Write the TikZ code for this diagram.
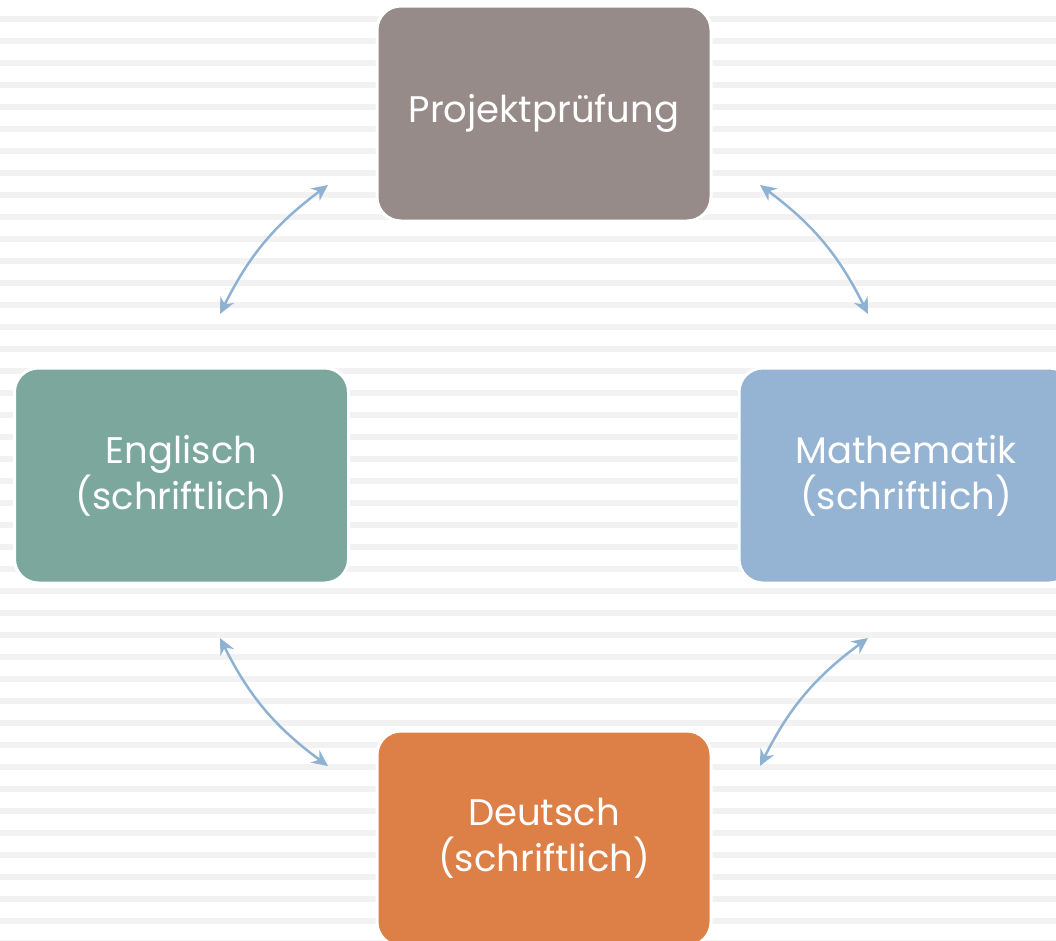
\documentclass[tikz,border=0pt]{standalone}
\usepackage{fontspec}
\setmainfont{Poppins}
\usetikzlibrary{arrows.meta}
\definecolor{stripe}{HTML}{F2F2F2}
\definecolor{cgray}{HTML}{968B88}
\definecolor{cteal}{HTML}{7BA79D}
\definecolor{cblue}{HTML}{95B3D2}
\definecolor{corange}{HTML}{DD8047}
\definecolor{carrow}{HTML}{8FB2D3}
\tikzset{
  subj/.style={rectangle, rounded corners=24pt, draw=white, line width=3pt,
    minimum width=334pt, minimum height=215pt, text=white, align=center,
    font=\fontsize{37}{46}\selectfont, inner sep=0pt},
  link/.style={draw=carrow, line width=2.5pt, {Stealth[length=16pt,width=15pt]}-{Stealth[length=16pt,width=15pt]}}
}
\begin{document}
\begin{tikzpicture}[x=1pt,y=-1pt]
\path[use as bounding box, clip] (0,0) rectangle (1056,940);
\fill[white] (0,0) rectangle (1056,940);
\foreach \k in {0,...,42} {
  \fill[stripe] (0,16+22*\k) rectangle (1056,22+22*\k);
}
\node[subj, fill=cgray] (top) at (544,113.5) {Projektprüfung};
\node[subj, fill=cteal] (left) at (181.5,475.5) {Englisch\\(schriftlich)};
\node[subj, fill=cblue] (right) at (906,475.5) {Mathematik\\(schriftlich)};
\node[subj, fill=corange] (bottom) at (544,838.5) {Deutsch\\(schriftlich)};
\coordinate (tl1) at (328,185);
\coordinate (tl2) at (220,314);
\coordinate (tr1) at (760,185);
\coordinate (tr2) at (868,314);
\coordinate (bl1) at (220,638);
\coordinate (bl2) at (328,766);
\coordinate (br1) at (760,766);
\coordinate (br2) at (868,638);
\draw[link] (tl1) to[bend right=13.5] (tl2);
\draw[link] (tr1) to[bend left=13.5] (tr2);
\draw[link] (bl1) to[bend right=13.5] (bl2);
\draw[link] (br1) to[bend left=13.5] (br2);
\end{tikzpicture}
\end{document}
